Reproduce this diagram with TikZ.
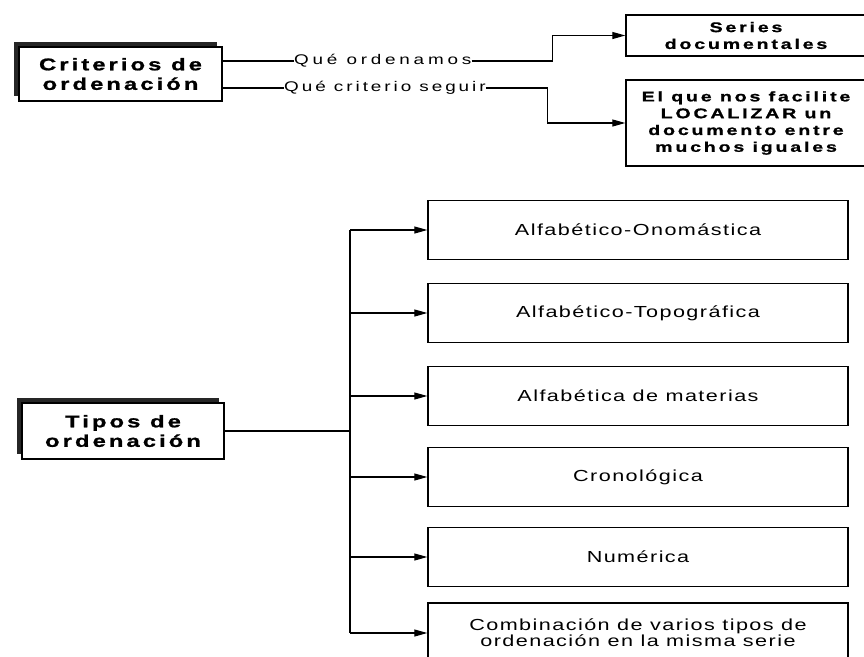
\documentclass[tikz,border=0pt]{standalone}
\usepackage{fontspec}
\setmainfont{Liberation Sans}
\newfontfamily\hdfont[FakeStretch=1.4,LetterSpace=18,FakeBold=1]{Liberation Sans}
\newfontfamily\bxfont[FakeStretch=1.4,LetterSpace=20,FakeBold=1]{Liberation Sans}
\newfontfamily\txfont[FakeStretch=1.35,LetterSpace=9]{Liberation Sans}
\newfontfamily\lbfont[FakeStretch=1.35,LetterSpace=21]{Liberation Sans}
\newfontfamily\lbwfont[FakeStretch=1.35,LetterSpace=27]{Liberation Sans}
\usetikzlibrary{arrows.meta,shadows,calc}
\begin{document}
\begin{tikzpicture}[x=1pt,y=-1pt,
  box/.style={draw, line width=1.4pt, fill=white, inner sep=0pt, align=center},
  head/.style={box, font=\hdfont\bfseries\fontsize{17}{19.5}\selectfont,
    general shadow={shadow xshift=-5pt, shadow yshift=5pt, fill=black!85}},
  bbox/.style={box, minimum width=240pt, font=\bxfont\bfseries\fontsize{14}{16.8}\selectfont},
  tbox/.style={box, minimum width=420pt, minimum height=59pt, font=\txfont\fontsize{16}{16}\selectfont},
  lbl/.style={inner sep=0pt, font=\lbfont\fontsize{14}{15}\selectfont},
  conn/.style={line width=1.1pt},
  arr/.style={conn, -{Triangle[length=13pt,width=7pt]}}
]
\useasboundingbox (0,0) rectangle (864,656);

% upper part
\node[head, minimum width=203pt, minimum height=54pt] (crit) at (120.5,74) {Criterios de\\ordenación};
\node[bbox, minimum height=41pt] (series) at (746,35.5) {Series\\documentales};
\node[bbox, minimum height=86pt] (local) at (746,123) {El que nos facilite\\LOCALIZAR un\\documento entre\\muchos iguales};
\node[lbl, anchor=west, font=\lbwfont\fontsize{14}{15}\selectfont] (q1) at (294,61) {Qué ordenamos};
\node[lbl, anchor=west] (q2) at (284,88) {Qué criterio seguir};

\draw[conn] (crit.east |- q1.west) -- (q1.west);
\draw[arr] (q1.east) -| ([xshift=-73pt]series.west) -- (series.west);
\draw[conn] (crit.east |- q2.west) -- (q2.west);
\draw[arr] (q2.east) -| ([xshift=-78pt]local.west) -- (local.west);

% lower part
\node[head, minimum width=202pt, minimum height=56pt] (tipos) at (123,431) {Tipos de\\ordenación};
\node[tbox] (b1) at (638,230) {Alfabético-Onomástica};
\node[tbox] (b2) at (638,313) {Alfabético-Topográfica};
\node[tbox] (b3) at (638,396) {Alfabética de materias};
\node[tbox] (b4) at (638,477) {Cronológica};
\node[tbox] (b5) at (638,557) {Numérica};
\node[tbox, minimum height=60pt] (b6) at (638,633) {Combinación de varios tipos de\\ordenación en la misma serie};

\coordinate (bus) at (350,431);
\draw[conn] (tipos.east |- bus) -- (bus);
\draw[conn] (b1.west -| bus) -- (b6.west -| bus);
\foreach \b in {b1,b2,b3,b4,b5,b6}
  \draw[arr] (\b.west -| bus) -- (\b.west);
\end{tikzpicture}
\end{document}
